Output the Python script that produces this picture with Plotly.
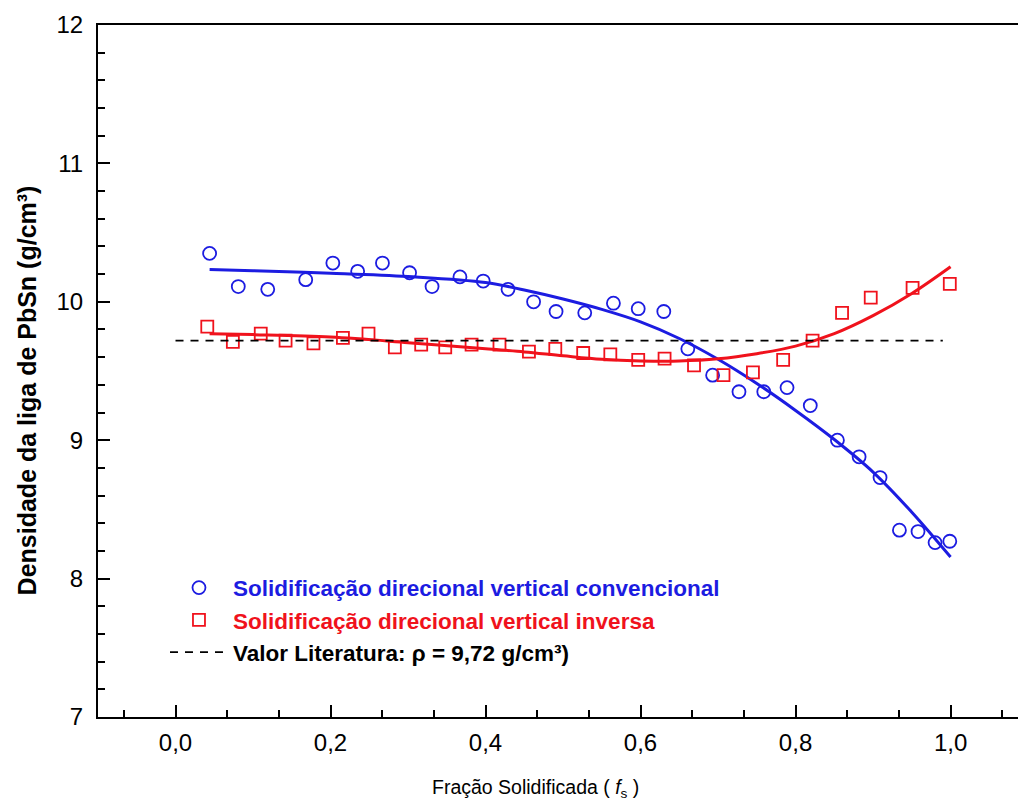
import plotly.graph_objects as go

# Measured densities - conventional vertical directional solidification
fs_conv = [0.044, 0.081, 0.119, 0.168, 0.203, 0.235, 0.267, 0.302, 0.331, 0.367,
           0.397, 0.429, 0.462, 0.491, 0.528, 0.565, 0.597, 0.630, 0.661, 0.693,
           0.727, 0.759, 0.789, 0.819, 0.854, 0.882, 0.909, 0.934, 0.958, 0.980, 0.999]
rho_conv = [10.35, 10.11, 10.09, 10.16, 10.28, 10.22, 10.28, 10.21, 10.11, 10.18,
            10.15, 10.09, 10.00, 9.93, 9.92, 9.99, 9.95, 9.93, 9.66, 9.47,
            9.35, 9.35, 9.38, 9.25, 9.00, 8.88, 8.73, 8.35, 8.34, 8.26, 8.27]

# Measured densities - inverse vertical directional solidification
fs_inv = [0.041, 0.074, 0.110, 0.142, 0.178, 0.216, 0.249, 0.283, 0.317, 0.348,
          0.382, 0.418, 0.456, 0.490, 0.526, 0.561, 0.597, 0.631, 0.669, 0.707,
          0.745, 0.784, 0.822, 0.860, 0.897, 0.951, 0.999]
rho_inv = [9.82, 9.71, 9.77, 9.72, 9.70, 9.74, 9.77, 9.67, 9.69, 9.67,
           9.69, 9.69, 9.64, 9.66, 9.63, 9.62, 9.58, 9.59, 9.54, 9.47,
           9.49, 9.58, 9.72, 9.92, 10.03, 10.10, 10.13]

# Trend curves
fit_x_conv = [0.044, 0.1, 0.2, 0.3, 0.4, 0.45, 0.5, 0.55, 0.6, 0.65, 0.7, 0.75,
              0.8, 0.85, 0.9, 0.95, 1.0]
fit_y_conv = [10.234, 10.225, 10.207, 10.183, 10.140, 10.085, 10.020, 9.945, 9.855,
              9.735, 9.585, 9.410, 9.215, 9.005, 8.770, 8.480, 8.156]
fit_x_inv = [0.044, 0.1, 0.2, 0.3, 0.4, 0.45, 0.5, 0.55, 0.6, 0.65, 0.7, 0.75, 0.8,
             0.85, 0.9, 0.95, 1.0]
fit_y_inv = [9.770, 9.763, 9.745, 9.705, 9.660, 9.638, 9.610, 9.585, 9.573, 9.572,
             9.588, 9.625, 9.680, 9.770, 9.900, 10.060, 10.253]

# Literature reference value
lit_x = [0.0, 0.99]
lit_rho = [9.72, 9.72]

BLUE = "rgb(28,28,225)"
RED = "rgb(240,18,28)"
FONT = "Arial, Liberation Sans, sans-serif"

fig = go.Figure()

fig.add_trace(go.Scatter(x=fit_x_conv, y=fit_y_conv, mode="lines", line_shape="spline",
                         line=dict(color=BLUE, width=3), showlegend=False, hoverinfo="skip"))
fig.add_trace(go.Scatter(x=fit_x_inv, y=fit_y_inv, mode="lines", line_shape="spline",
                         line=dict(color=RED, width=3), showlegend=False, hoverinfo="skip"))

fig.add_trace(go.Scatter(
    x=fs_conv, y=rho_conv, mode="markers",
    name="<b><span style='color:%s'>Solidificação direcional vertical convencional</span></b>" % BLUE,
    marker=dict(symbol="circle-open", size=13, color=BLUE, line=dict(width=1.8, color=BLUE))))
fig.add_trace(go.Scatter(
    x=fs_inv, y=rho_inv, mode="markers",
    name="<b><span style='color:%s'>Solidificação direcional vertical inversa</span></b>" % RED,
    marker=dict(symbol="square-open", size=12, color=RED, line=dict(width=1.8, color=RED))))
fig.add_trace(go.Scatter(
    x=lit_x, y=lit_rho, mode="lines",
    name="<b>Valor Literatura: ρ = 9,72 g/cm³)</b>",
    line=dict(color="black", width=1.8, dash="8px,7px")))

fig.add_annotation(text="<b>Densidade da liga de PbSn (g/cm³)</b>", textangle=-90,
                   xref="paper", yref="y", x=0, y=9.36, xshift=-71, showarrow=False,
                   xanchor="center", yanchor="middle",
                   font=dict(family=FONT, size=25, color="black"))
fig.add_annotation(text="Fração Solidificada ( <i>f</i><sub>s</sub> )",
                   xref="x", yref="paper", x=0.4645, y=0, yshift=-71, showarrow=False,
                   xanchor="center", yanchor="middle",
                   font=dict(family=FONT, size=19.5, color="black"))

fig.update_layout(
    width=1018, height=805,
    margin=dict(l=98, r=0, t=25, b=88),
    paper_bgcolor="white", plot_bgcolor="white",
    separators=",.",
    font=dict(family=FONT, size=24, color="black"),
    showlegend=True,
    legend=dict(x=0.0728, y=0.2175, xanchor="left", yanchor="top",
                bgcolor="rgba(0,0,0,0)", borderwidth=0,
                font=dict(family=FONT, size=22.5),
                traceorder="normal", itemwidth=58),
)

fig.update_xaxes(range=[-0.1, 1.087], showgrid=False, zeroline=False,
                 showline=True, linewidth=2.2, linecolor="black", mirror=True,
                 ticks="inside", ticklen=12, tickwidth=2, tickcolor="black",
                 tick0=0, dtick=0.2, tickformat=".1f", ticklabelstandoff=3,
                 minor=dict(ticks="inside", ticklen=7, tickwidth=2, tickcolor="black",
                            dtick=0.2 / 3, tick0=0),
                 tickfont=dict(family=FONT, size=24))
fig.update_yaxes(range=[7, 12], showgrid=False, zeroline=False,
                 showline=True, linewidth=2.2, linecolor="black",
                 ticks="inside", ticklen=12, tickwidth=2, tickcolor="black",
                 dtick=1, ticklabelstandoff=8,
                 minor=dict(ticks="inside", ticklen=7, tickwidth=2,
                            tickcolor="black", dtick=0.2),
                 tickfont=dict(family=FONT, size=24))

fig.write_html("out.html")
